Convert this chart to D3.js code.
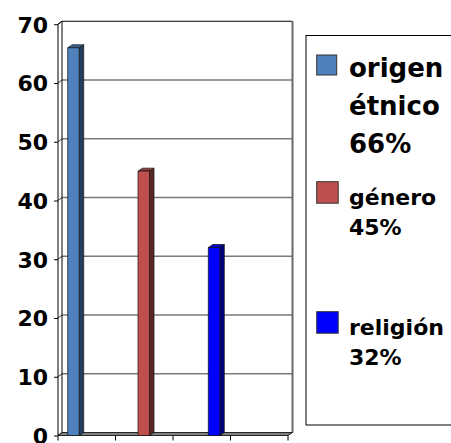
<!DOCTYPE html>
<html><head><meta charset="utf-8">
<script src="https://cdn.jsdelivr.net/npm/d3@7"></script>
<style>body{margin:0;background:#fff;overflow:hidden}</style>
</head><body><svg id="c" width="451" height="443"></svg>
<script>
// ---- data ----
const categories = ["c1", "c2", "c3", "c4"];
const seriesNames = ["origen étnico", "género", "religión"];
const seriesValues = [
  [66, null, null, null],
  [null, 45, null, null],
  [null, null, 32, null]
];
const legendValues = [66, 45, 32];
const yTicks = [0, 10, 20, 30, 40, 50, 60, 70];

// ---- style ----
const faceColors = ["#4f81bd", "#c0504d", "#0000ff"];
const sideColors = ["#263e5e", "#5e2826", "#000080"];
const topColors = ["#3c6394", "#8e3c3a", "#0000c0"];

const svg = d3.select("#c");
const depthX = 4, depthY = 3;   // wall depth
const barDX = 4.5, barDY = 3;   // bar depth

const yFront = d3.scaleLinear().domain([0, 70]).range([435.5, 24.25]);
const yBack = v => yFront(v) - depthY;
const x0 = d3.scaleBand().domain(categories).range([58, 288]);
const x1 = d3.scaleBand().domain(seriesNames).range([9.7, 9.7 + 38.4]);

const wallL = 58 + depthX, wallR = 288 + depthX + 0.5;

// back wall gridlines
svg.append("g").selectAll("line").data(yTicks.filter(t => t > 0 && t < 70)).join("line")
  .attr("x1", wallL).attr("x2", wallR)
  .attr("y1", d => yBack(d)).attr("y2", d => yBack(d))
  .attr("stroke", "#7a7a7a").attr("stroke-width", 1.5);

// connectors from front axis to back wall
svg.append("g").selectAll("line").data(yTicks).join("line")
  .attr("x1", 58).attr("x2", wallL)
  .attr("y1", d => yFront(d)).attr("y2", d => yBack(d))
  .attr("stroke", "#000").attr("stroke-width", 0.8);

// back wall edges
svg.append("line").attr("x1", wallL).attr("x2", wallR).attr("y1", yBack(70)).attr("y2", yBack(70))
  .attr("stroke", "#000").attr("stroke-width", 1);
svg.append("line").attr("x1", wallL).attr("x2", wallL).attr("y1", yBack(70)).attr("y2", yBack(0))
  .attr("stroke", "#000").attr("stroke-width", 1);
svg.append("line").attr("x1", wallR).attr("x2", wallR).attr("y1", yBack(70)).attr("y2", yBack(0))
  .attr("stroke", "#6a6a6a").attr("stroke-width", 2);

// floor
const fl = [[58, yFront(0)], [wallL, yBack(0)], [wallR, yBack(0)], [288, yFront(0)]];
svg.append("polygon").attr("points", fl.map(p => p.join(",")).join(" "))
  .attr("fill", "#808080").attr("stroke", "#000").attr("stroke-width", 0.8);

// bottom ticks
const bTicks = [x0.range()[0]].concat(categories.map(c => x0(c) + x0.bandwidth()));
svg.append("g").selectAll("line").data(bTicks).join("line")
  .attr("x1", d => d).attr("x2", d => d)
  .attr("y1", yFront(0)).attr("y2", yFront(0) + 5)
  .attr("stroke", "#000").attr("stroke-width", 1);

// front y axis
const yAxis = d3.axisLeft(yFront).tickValues(yTicks).tickSize(4).tickPadding(6);
const ag = svg.append("g").attr("transform", "translate(58,0)").call(yAxis);
ag.select(".domain").remove();
ag.selectAll("line").attr("stroke", "#000");
ag.selectAll("text").attr("font-family", "DejaVu Sans").attr("font-weight", "bold")
  .attr("font-size", 22).attr("fill", "#000").attr("dy", "0.36em");
svg.append("polyline")
  .attr("points", `58,${yFront(0)} 58,${yFront(70)} ${wallL},${yBack(70)}`)
  .attr("fill", "none").attr("stroke", "#000").attr("stroke-width", 1);

// bars
const bars = [];
seriesValues.forEach((vals, i) => vals.forEach((v, j) => {
  if (v != null) bars.push({ i, cat: categories[j], s: seriesNames[i], v });
}));
const bw = x1.bandwidth() * 0.9;
const bg = svg.append("g");
bars.forEach(b => {
  const fx = x0(b.cat) + x1(b.s);
  const top = yFront(b.v), bot = yFront(0);
  const g = bg.append("g").attr("stroke", "#111").attr("stroke-width", 0.7).attr("stroke-linejoin", "round");
  g.append("polygon").attr("points",
    [[fx + bw, top], [fx + bw + barDX, top - barDY], [fx + bw + barDX, bot - barDY], [fx + bw, bot]].map(p => p.join(",")).join(" "))
    .attr("fill", sideColors[b.i]);
  g.append("polygon").attr("points",
    [[fx, top], [fx + barDX, top - barDY], [fx + bw + barDX, top - barDY], [fx + bw, top]].map(p => p.join(",")).join(" "))
    .attr("fill", topColors[b.i]);
  g.append("rect").attr("x", fx).attr("y", top).attr("width", bw).attr("height", bot - top)
    .attr("fill", faceColors[b.i]);
});

// legend
svg.append("rect").attr("x", 306).attr("y", 35.5).attr("width", 160).attr("height", 389.5)
  .attr("fill", "none").attr("stroke", "#000").attr("stroke-width", 1);
const legLayout = [
  { sy: 55, ss: 20, fs: 26, base: 76.7, lh: 38.3 },
  { sy: 181.7, ss: 21.5, fs: 22, base: 205, lh: 30 },
  { sy: 311.7, ss: 21.5, fs: 22, base: 335, lh: 30 }
];
seriesNames.forEach((name, i) => {
  const L = legLayout[i];
  svg.append("rect").attr("x", 316.7).attr("y", L.sy).attr("width", L.ss).attr("height", L.ss)
    .attr("fill", faceColors[i]).attr("stroke", "#333").attr("stroke-width", 1);
  const lines = name.split(" ").concat([legendValues[i] + "%"]);
  const t = svg.append("text").attr("font-family", "DejaVu Sans").attr("font-weight", "bold")
    .attr("font-size", L.fs).attr("fill", "#000");
  lines.forEach((ln, k) => t.append("tspan").attr("x", 349).attr("y", L.base + k * L.lh).text(ln));
});
</script></body></html>
